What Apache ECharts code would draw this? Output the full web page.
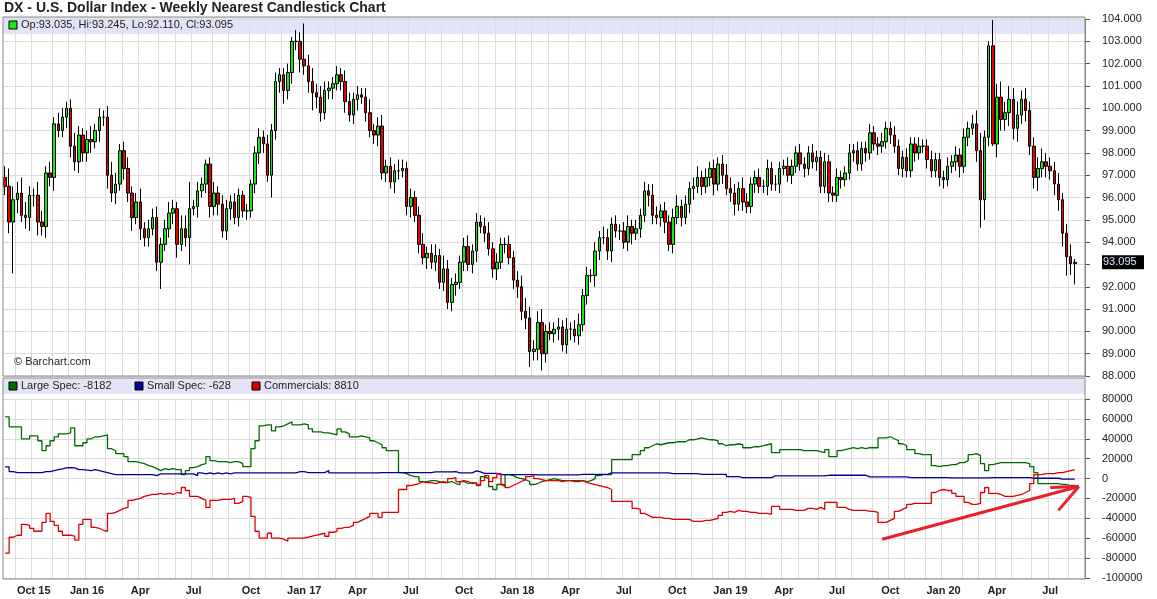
<!DOCTYPE html>
<html>
<head>
<meta charset="utf-8">
<script src="https://cdn.jsdelivr.net/npm/echarts@6/dist/echarts.min.js"></script>
<style>
  html, body { margin: 0; padding: 0; background: #fff; }
  #chart { width: 1157px; height: 599px; }
</style>
</head>
<body>
<div id="chart"></div>
<script>
// weekly DX closes, Fridays from 2015-08-14 to 2020-08-14
var firstOpen = 96.9;
var closes = [
  96.5,94.9,95.9,96.2,95.2,95.1,96.1,96.1,94.9,94.7,97.1,96.9,99.3,99.0,99.6,100.0,98.3,97.6,98.8,98.0,
  98.6,98.5,99.0,99.6,99.6,97.0,96.2,96.6,98.1,97.3,96.2,95.1,95.8,94.6,94.2,94.6,95.1,93.1,93.9,94.6,95.3,95.5,
  93.9,94.6,94.2,95.5,95.6,96.3,96.6,97.5,95.6,96.2,95.7,94.5,95.5,95.8,95.1,96.1,95.4,95.4,96.6,98.0,98.7,98.4,
  97.0,99.0,101.2,101.5,100.8,101.6,103.0,103.0,102.2,
  101.9,101.2,100.7,100.5,99.8,100.8,100.9,101.1,101.5,101.2,100.3,99.7,100.4,100.6,100.5,99.8,99.0,98.8,99.2,97.1,
  97.4,96.7,97.2,97.2,97.3,95.6,96.0,95.2,93.9,93.3,93.5,93.1,93.4,92.2,92.8,91.3,92.1,92.2,93.1,93.8,93.0,93.6,
  94.9,94.7,94.4,93.7,92.8,93.1,93.9,93.9,93.3,92.3,
  92.0,90.9,90.6,89.1,89.2,90.4,89.0,90.0,89.9,90.1,90.2,89.4,90.1,90.1,89.8,90.3,91.6,92.5,92.5,93.6,94.2,
  94.2,93.6,94.8,94.5,94.5,94.0,94.7,94.4,94.6,95.2,96.3,96.1,95.2,95.1,95.4,94.9,93.9,95.1,95.6,95.1,95.7,96.4,
  96.5,96.9,96.5,96.9,97.3,96.6,97.5,97.0,96.4,
  96.2,95.7,96.4,95.8,95.6,96.6,96.9,96.5,96.5,97.3,96.6,96.6,97.3,97.4,97.0,97.4,98.0,97.5,97.3,98.0,97.6,97.8,
  96.5,97.6,96.2,96.1,96.9,96.8,97.1,98.0,98.1,97.5,98.2,98.0,98.9,98.4,98.3,98.5,99.1,98.8,98.3,97.3,97.8,
  97.2,98.4,98.0,98.3,98.3,97.7,97.2,97.7,96.9,
  96.8,97.4,97.6,97.9,97.4,98.7,99.1,99.3,98.1,95.9,98.7,102.8,98.4,100.5,99.5,99.8,100.4,99.1,99.7,100.4,99.9,
  98.3,96.9,97.3,97.6,97.4,97.2,96.6,95.9,94.4,93.35,93.035,93.095
];
// wick above / below the candle body
var wickUp = [
  0.5,0.8,0.6,0.5,0.7,0.6,0.4,0.3,0.6,0.5,0.3,0.5,0.3,0.5,0.4,0.3,0.4,0.6,0.4,0.3,
  0.4,0.6,0.3,0.4,0.3,0.5,0.6,0.5,0.3,0.4,0.5,0.3,0.4,0.6,0.3,0.4,0.4,0.5,0.3,0.4,
  0.5,0.4,0.3,0.6,0.6,1.2,0.3,0.4,0.3,0.2,0.3,0.5,0.3,0.4,0.4,0.3,0.4,0.3,0.2,0.3,
  0.2,0.3,0.4,0.3,0.4,0.3,0.4,0.3,0.3,0.4,0.2,0.5,0.4,
  1.6,0.5,0.6,0.4,0.5,0.4,0.3,0.3,0.4,0.3,0.5,0.4,0.3,0.4,0.3,0.4,0.6,0.3,0.4,0.5,
  0.3,0.4,0.3,0.5,0.4,0.3,0.4,0.3,0.4,0.5,0.3,0.4,0.5,0.3,0.6,0.4,0.3,0.4,0.3,0.4,
  0.5,0.3,0.4,0.3,0.4,0.5,0.3,0.4,0.3,0.3,0.4,0.3,
  0.4,0.5,0.6,0.5,0.4,0.5,0.6,0.3,0.4,0.3,0.4,0.3,0.5,0.3,0.4,0.5,0.3,0.4,0.3,0.4,
  0.3,0.5,0.4,0.3,0.4,0.3,0.4,0.5,0.3,0.4,0.3,0.4,0.3,0.5,0.4,0.3,0.4,0.3,0.4,0.5,
  0.3,0.4,0.3,0.4,0.5,0.3,0.4,0.3,0.4,0.3,0.4,0.5,
  0.5,0.4,0.3,0.5,0.4,0.3,0.3,0.4,0.3,0.4,0.3,0.4,0.3,0.3,0.4,0.3,0.3,0.4,0.3,0.3,
  0.4,0.3,0.3,0.4,0.3,0.3,0.4,0.3,0.3,0.4,0.3,0.4,0.3,0.3,0.4,0.3,0.3,0.4,0.3,0.3,
  0.4,0.3,0.3,0.4,0.3,0.3,0.4,0.3,0.3,0.4,0.3,0.3,
  0.3,0.4,0.3,0.4,0.3,0.4,0.3,0.4,0.6,0.8,0.3,0.2,1.16,0.6,0.7,0.5,0.6,0.5,0.6,0.4,
  0.5,0.4,0.4,0.5,0.6,0.4,0.4,0.4,0.5,0.3,0.4,0.55,0.15
];
var wickDn = [
  0.4,0.5,2.3,0.6,0.3,0.5,0.6,0.5,0.6,0.4,0.5,0.4,0.6,0.3,0.3,0.5,0.5,0.4,0.5,0.4,
  0.4,0.5,0.3,0.5,0.4,0.6,0.4,0.5,0.3,0.5,0.4,0.6,0.3,0.5,0.4,0.4,0.3,0.4,1.2,0.3,
  0.4,0.5,0.6,0.3,0.4,1.2,0.3,0.5,0.3,0.4,0.5,0.4,0.5,0.3,0.4,0.5,0.3,0.4,0.3,0.4,
  0.3,0.4,0.5,0.4,0.3,1.0,0.4,0.5,0.6,0.4,0.5,0.4,0.6,
  0.4,0.5,0.8,0.5,0.4,0.3,0.4,0.5,0.3,0.4,0.5,0.3,0.4,0.5,0.3,0.4,0.3,0.4,0.5,0.3,
  0.4,0.3,0.5,0.4,0.3,0.4,0.5,0.3,0.4,0.3,0.5,0.3,0.4,0.3,0.4,0.3,0.4,0.5,0.3,0.4,
  0.3,0.4,0.5,0.3,0.4,0.3,0.4,0.5,0.3,0.4,0.3,0.4,
  0.5,0.4,0.5,0.7,0.4,0.5,0.75,0.4,0.3,0.4,0.5,0.3,0.4,0.5,0.3,0.4,0.3,0.4,0.3,0.5,
  0.4,0.3,0.4,0.5,0.3,0.4,0.3,0.4,0.5,0.3,0.4,0.3,0.5,0.4,0.3,0.4,0.5,0.3,0.4,0.3,
  0.4,0.3,0.4,0.5,0.3,0.4,0.3,0.4,0.5,0.3,0.4,0.3,
  0.4,0.5,0.3,0.4,0.3,0.3,0.4,0.3,0.3,0.4,0.3,0.3,0.4,0.3,0.3,0.4,0.3,0.3,0.4,0.3,
  0.3,0.4,0.3,0.3,0.4,0.3,0.3,0.4,0.3,0.3,0.4,0.3,0.3,0.4,0.3,0.3,0.4,0.3,0.3,0.4,
  0.3,0.3,0.4,0.3,0.3,0.4,0.3,0.3,0.4,0.3,0.3,0.4,
  0.4,0.3,0.3,0.4,0.5,0.3,0.4,0.3,0.5,1.25,0.9,0.4,0.1,0.6,0.5,0.5,0.6,0.5,0.6,0.4,
  0.5,0.4,0.5,0.6,0.4,0.5,0.4,0.5,0.5,0.6,0.85,0.5,0.93
];

// COT net positions, thousands of contracts
var largeSpec = [
  62,52,52,52,40,40,43,43,38,28,33,38,42,45,45,46,51,33,33,36,
  40,42,42,43,44,30,28,25,25,22,17,17,16,15,13,12,10,8,10,9,
  10,9,9,4,8,11,12,14,15,22,18,17,17,17,16,17,17,15,12,12,
  30,38,53,54,54,48,52,53,55,57,54,54,55,54,50,47,47,46,46,45,
  44,50,47,45,42,42,43,42,41,38,36,
  34,31,28,28,28,6,5,3,2,2,-3,-3,-2,-2,-3,-4,-4,-3,-5,-6,
  -3,-5,-4,-5,-7,2,0,-8,-11,-6,-8,4,3,1,0,-1,-3,-6,-5,-3,
  -2,-1,0,-1,-2,-2,-2,-2,-2,-2,-3,-2,0,3,4,4,4,19,19,19,
  19,19,24,24,28,31,33,35,34,35,36,36,37,37,37,39,39,40,41,40,
  39,39,38,35,33,34,34,35,
  34,31,31,32,32,33,34,35,26,26,29,29,29,29,29,28,28,28,28,27,
  26,29,22,22,28,29,30,31,30,31,30,31,31,31,41,41,42,40,38,35,
  33,29,29,25,24,24,24,13,12,13,13,14,14,16,16,18,24,25,23,15,
  8,14,15,16,16,16,16,16,16,16,15,12,6,-5,-5,-5,-5,-5,-6,-6,
  -7,-7,-8.182
];
var smallSpec = [
  11.7,7,6,6,6,6,6,6,6,7,7,8,9,9.7,10.7,11,10.7,9,9,8.5,
  8,9,8,7,6,5,4,4,4,4,4,4,4,4,4,4,3,4.7,4.7,4.7,
  4.7,4.7,4.7,4.7,4.7,4.7,3,5.7,4.7,5.7,4.7,5.7,4.7,5.7,4.7,5.7,5.7,5.7,5.7,5.7,
  5.7,5.7,5.7,5.7,5.7,5.7,5.7,5.7,5.7,5.7,5.7,7,7,6,6,6,6,6,8,5.7,
  5.7,5.7,5.7,5.7,5.7,5.7,5.7,5.7,5.7,5.7,5.7,
  6,6,6,6,6,6,6,6,6,6,6,6,6,6.7,6.7,6.7,6.7,6.7,7,5.7,
  5.7,5.7,5.7,7.7,6.7,5.3,5.3,5.3,5.3,4,4,4,4,4,4,4,4,4,3.7,
  3.7,3.7,3.7,3.7,3.7,3.7,3.7,3.7,3.7,3.7,4.3,4.3,4.3,4.3,4.3,4.3,4.3,5.7,5.7,5.7,
  5.7,5.7,5.7,5.7,5.7,5.7,5.7,5.7,5.7,5.7,5.7,5.7,5,5,5,5,5,5,5,4.3,
  4.3,4.3,4.3,4.3,4.3,4.3,2,2,2,
  1,1,1,1,1,1,1,1,2.7,2.7,2.7,2.7,2.7,2.7,2.7,2.7,2.7,2.7,2.7,2.7,
  2.7,3.3,3.3,3.3,3.3,3.3,3.3,3.3,3.3,3.3,3.3,1.7,1.7,1.7,1.7,1.7,1.7,1.7,1.7,1.7,
  1.7,1,1,1,1,1,1,1,1,1,1,0.7,0.7,0.7,0.7,0.7,0.7,0.7,0.7,0.7,
  0.7,1,1,1,1,1,1,1,1,1,1,0.3,0.3,0.3,0.3,0.3,0.3,0.3,-0.6,-0.6,
  -0.6,-0.6,-0.628
];
var commercials = [
  -75,-59,-57,-57,-46,-47,-50,-53,-53,-44,-35,-43,-47,-53,-57,-57,-58,-62,-46,-41,
  -41,-49,-50,-52,-53,-35,-34,-32,-30,-29,-22,-21,-20,-18,-17,-16,-16,-15,-16,-15,
  -16,-14,-15,-9,-12,-18,-18,-20,-22,-29,-22,-22,-21,-21,-21,-20,-25,-23,-18,-19,
  -38,-53,-60,-60,-55,-60,-60,-61,-63,-60,-60,-60,-60,-59,-58,-57,-56,-55,-58,-54,
  -53,-50,-49,-49,-47,-44,-42,-40,-38,-35,-35,
  -39,-34,-34,-34,-34,-11,-11,-7,-6,-5,-3,-4,-4,-5,-4,-3,-4,0,1,-3,
  -2,-3,-5,-4,-7,-2,3,-3,1,5,-6,-9,-7,-5,-3,-1,2,3,0,-1,
  -2,-2,-2,-2,-3,-2,-2,-3,-3,-2,-4,-5,-6,-7,-8,-9,-11,-23,-23,-23,
  -23,-23,-30,-31,-35,-37,-39,-39,-39,-40,-40,-41,-41,-41,-41,-41,-43,-43,-43,-42,
  -42,-41,-40,-37,-34,-33,-34,-32,
  -33,-33,-34,-34,-35,-35,-35,-36,-28,-28,-31,-31,-31,-32,-32,-32,-30,-30,-31,-29,
  -31,-24,-24,-24,-29,-29,-31,-32,-32,-32,-32,-33,-33,-34,-44,-44,-42,-40,-33,-31,
  -29,-26,-25,-25,-25,-25,-25,-14,-12,-11,-12,-12,-15,-18,-18,-24,-26,-26,-25,-14,
  -9,-15,-15,-16,-18,-18,-18,-17,-16,-14,-12,-5,4,4,5,5,5,6,6,7,
  8,9,8.81
];

var priceTicks = { min: 88, max: 104, step: 1 };
var cotTicks = { min: -100000, max: 80000, step: 20000 };
var monthNames = ['Jan','Feb','Mar','Apr','May','Jun','Jul','Aug','Sep','Oct','Nov','Dec'];

// weekly category dates, plus two empty weeks on the right
var dates = [];
var t0 = Date.UTC(2015, 7, 14);
for (var i = 0; i < closes.length + 2; i++) {
  dates.push(new Date(t0 + i * 7 * 86400000).toISOString().slice(0, 10));
}

var candles = closes.map(function (c, i) {
  var o = i === 0 ? firstOpen : closes[i - 1];
  return [o, c, Math.min(o, c) - wickDn[i], Math.max(o, c) + wickUp[i]];
});
function k(arr) { return arr.map(function (v) { return Math.round(v * 1000); }); }

function monthStart(idx) {
  var d = dates[idx];
  return d && +d.slice(8, 10) <= 7;
}
function quarterStart(idx) {
  var d = dates[idx];
  return monthStart(idx) && (+d.slice(5, 7) - 1) % 3 === 0;
}

var dom = document.getElementById('chart');
var myChart = echarts.init(dom, null, { renderer: 'canvas' });
var font = 'Liberation Sans, Arial, sans-serif';

var xBase = {
  type: 'category',
  data: dates,
  boundaryGap: true,
  axisLine: { show: false },
  axisTick: { show: false },
  splitLine: { show: true, interval: function (i) { return monthStart(i); }, lineStyle: { color: '#dcdcdc' } }
};

var option = {
  animation: false,
  textStyle: { fontFamily: font },
  grid: [
    { left: 3, right: 72, top: 19, height: 357 },
    { left: 3, right: 72, top: 399, height: 179 }
  ],
  xAxis: [
    Object.assign({ gridIndex: 0, axisLabel: { show: false } }, xBase),
    Object.assign({
      gridIndex: 1,
      axisLabel: {
        interval: function (i) { return quarterStart(i); },
        formatter: function (v, i) {
          var m = +v.slice(5, 7) - 1;
          var yy = v.slice(2, 4);
          if (m === 0 || i < 13) return monthNames[m] + ' ' + yy;
          return monthNames[m];
        },
        fontWeight: 'bold', fontSize: 11, color: '#222', margin: 7
      }
    }, xBase)
  ],
  yAxis: [
    {
      gridIndex: 0, position: 'right', min: priceTicks.min, max: priceTicks.max, interval: priceTicks.step,
      axisLine: { show: true, lineStyle: { color: '#888' } },
      axisTick: { show: true, length: 5, lineStyle: { color: '#555' } },
      axisLabel: { formatter: function (v) { return v.toFixed(3); }, fontSize: 11, color: '#222', margin: 17 },
      splitLine: { lineStyle: { color: '#dcdcdc' } }
    },
    {
      gridIndex: 1, position: 'right', min: cotTicks.min, max: cotTicks.max, interval: cotTicks.step,
      axisLine: { show: true, lineStyle: { color: '#888' } },
      axisTick: { show: true, length: 5, lineStyle: { color: '#555' } },
      axisLabel: { formatter: function (v) { return String(v); }, fontSize: 11, color: '#222', margin: 17 },
      splitLine: { lineStyle: { color: '#dcdcdc' } }
    }
  ],
  series: [
    {
      type: 'candlestick', xAxisIndex: 0, yAxisIndex: 0, data: candles,
      barWidth: 3,
      itemStyle: { color: '#19e619', color0: '#e60000', borderColor: '#000', borderColor0: '#000', borderWidth: 1 }
    },
    {
      type: 'line', xAxisIndex: 1, yAxisIndex: 1, data: k(largeSpec), step: 'end',
      showSymbol: false, lineStyle: { color: '#006a00', width: 1.3 }
    },
    {
      type: 'line', xAxisIndex: 1, yAxisIndex: 1, data: k(smallSpec), step: 'end',
      showSymbol: false, lineStyle: { color: '#00009a', width: 1.3 }
    },
    {
      type: 'line', xAxisIndex: 1, yAxisIndex: 1, data: k(commercials), step: 'end',
      showSymbol: false, lineStyle: { color: '#dd0000', width: 1.3 },
      markLine: {
        silent: true, symbol: 'none', label: { show: false },
        lineStyle: { color: '#e8202a', width: 3, type: 'solid' },
        data: [
          [{ coord: [dates[214], -61000] }, { coord: [dates[262], -8000] }],
          [{ coord: [dates[255], -9000] }, { coord: [dates[262], -8000] }],
          [{ coord: [dates[257], -32000] }, { coord: [dates[262], -8000] }]
        ]
      }
    }
  ],
  graphic: [
    { type: 'text', left: 4, top: 1, style: { text: 'DX - U.S. Dollar Index - Weekly Nearest Candlestick Chart', font: 'bold 14px ' + font, fill: '#222' } },
    { type: 'rect', shape: { x: 3, y: 17, width: 1082, height: 17 }, style: { fill: '#e4e4f8' }, z: -1 },
    { type: 'rect', shape: { x: 3, y: 378, width: 1082, height: 16 }, style: { fill: '#e4e4f8' }, z: -1 },
    { type: 'rect', shape: { x: 3, y: 17, width: 1082, height: 359 }, style: { fill: 'none', stroke: '#888', lineWidth: 1 }, z: 10 },
    { type: 'rect', shape: { x: 3, y: 378, width: 1082, height: 201 }, style: { fill: 'none', stroke: '#888', lineWidth: 1 }, z: 10 },
    { type: 'rect', shape: { x: 9, y: 21, width: 8, height: 8 }, style: { fill: '#19e619', stroke: '#000' }, z: 11 },
    { type: 'text', left: 21, top: 19, z: 11, style: { text: 'Op:93.035, Hi:93.245, Lo:92.110, Cl:93.095', font: '11px ' + font, fill: '#222' } },
    { type: 'text', left: 14, top: 356, z: 11, style: { text: '\u00a9 Barchart.com', font: '11px ' + font, fill: '#222' } },
    { type: 'rect', shape: { x: 9, y: 382, width: 8, height: 8 }, style: { fill: '#006a00', stroke: '#000' }, z: 11 },
    { type: 'text', left: 21, top: 380, z: 11, style: { text: 'Large Spec: -8182', font: '11px ' + font, fill: '#222' } },
    { type: 'rect', shape: { x: 135, y: 382, width: 8, height: 8 }, style: { fill: '#00009a', stroke: '#000' }, z: 11 },
    { type: 'text', left: 147, top: 380, z: 11, style: { text: 'Small Spec: -628', font: '11px ' + font, fill: '#222' } },
    { type: 'rect', shape: { x: 252, y: 382, width: 8, height: 8 }, style: { fill: '#dd0000', stroke: '#000' }, z: 11 },
    { type: 'text', left: 264, top: 380, z: 11, style: { text: 'Commercials: 8810', font: '11px ' + font, fill: '#222' } }
  ]
};

myChart.setOption(option);

// last price tag on the price axis
var lastClose = closes[closes.length - 1];
var yPix = myChart.convertToPixel({ yAxisIndex: 0 }, lastClose);
myChart.setOption({
  graphic: option.graphic.concat([
    { type: 'rect', shape: { x: 1102, y: yPix - 7, width: 42, height: 14 }, style: { fill: '#000' }, z: 20 },
    { type: 'text', x: 1103, y: yPix - 6, z: 21, style: { text: lastClose.toFixed(3), font: '11px ' + font, fill: '#dde8ff' } }
  ])
});
</script>
</body>
</html>
